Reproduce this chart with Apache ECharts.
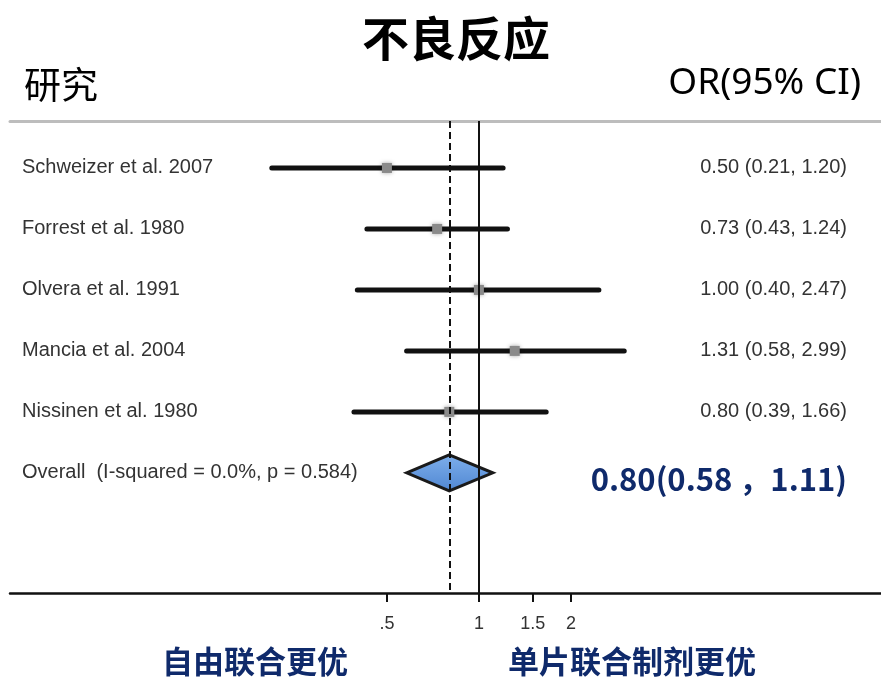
<!DOCTYPE html>
<html>
<head>
<meta charset="utf-8">
<script src="https://cdn.jsdelivr.net/npm/echarts@6/dist/echarts.min.js"></script>
<style>
  html, body { margin: 0; padding: 0; background: #fff; }
  #main { width: 881px; height: 678px; }
</style>
</head>
<body>
<div id="main"></div>
<script>
// forest plot data
const studies = ['Schweizer et al. 2007', 'Forrest et al. 1980', 'Olvera et al. 1991', 'Mancia et al. 2004', 'Nissinen et al. 1980']
const orEst = [0.50, 0.73, 1.00, 1.31, 0.80]
const ciLow = [0.21, 0.43, 0.40, 0.58, 0.39]
const ciHigh = [1.20, 1.24, 2.47, 2.99, 1.66]
const overallLabel = 'Overall  (I-squared = 0.0%, p = 0.584)'
const overallEst = [0.80, 0.58, 1.11]
const xTicks = [0.5, 1, 1.5, 2]
const rows = [0, 1, 2, 3, 4, 5]

const fmt = v => v.toFixed(2)
const leftLabels = studies.concat([overallLabel])
const rightLabels = studies.map((s, i) => fmt(orEst[i]) + ' (' + fmt(ciLow[i]) + ', ' + fmt(ciHigh[i]) + ')')
rightLabels.push(fmt(overallEst[0]) + '(' + fmt(overallEst[1]) + ' ，' + fmt(overallEst[2]) + ')')

const studyData = studies.map((s, i) => [orEst[i], ciLow[i], ciHigh[i], i])
const overallData = [[overallEst[0], overallEst[1], overallEst[2], 5]]

const chart = echarts.init(document.getElementById('main'))

chart.setOption({
  animation: false,
  grid: { left: 10, right: 0, top: 121, bottom: 85 },
  graphic: [
    { type: 'text', x: 456, y: 38, style: { text: '不良反应', font: 'bold 47px "Noto Sans CJK SC"', fill: '#000', textAlign: 'center', textVerticalAlign: 'middle' } },
    { type: 'text', x: 24, y: 85, style: { text: '研究', font: '37px "Noto Sans CJK SC"', fill: '#000', textVerticalAlign: 'middle' } },
    { type: 'text', x: 861, y: 83, style: { text: 'OR(95% CI)', font: '37px "Noto Sans"', fill: '#000', textAlign: 'right', textVerticalAlign: 'middle' } },
    { type: 'text', x: 255, y: 661, style: { text: '自由联合更优', font: 'bold 31px "Noto Sans CJK SC"', fill: '#0f2a6b', textAlign: 'center', textVerticalAlign: 'middle' } },
    { type: 'text', x: 632, y: 661, style: { text: '单片联合制剂更优', font: 'bold 31px "Noto Sans CJK SC"', fill: '#0f2a6b', textAlign: 'center', textVerticalAlign: 'middle' } }
  ],
  xAxis: [
    {
      type: 'log',
      logBase: 2,
      min: 0.0292,
      max: 20.7,
      position: 'bottom',
      axisLine: { onZero: false, lineStyle: { color: '#111', width: 2.5 } },
      axisTick: { customValues: xTicks, length: 9, lineStyle: { color: '#111', width: 2 } },
      axisLabel: {
        customValues: xTicks,
        margin: 22,
        fontSize: 18,
        fontFamily: 'Liberation Sans',
        color: '#333',
        formatter: v => (v < 1 ? String(v).replace(/^0/, '') : String(v))
      },
      splitLine: { show: false }
    },
    {
      type: 'log',
      logBase: 2,
      min: 0.0292,
      max: 20.7,
      position: 'top',
      axisLine: { onZero: false, lineStyle: { color: '#bdbdbd', width: 3 } },
      axisTick: { show: false },
      axisLabel: { show: false },
      splitLine: { show: false }
    }
  ],
  yAxis: [
    {
      type: 'value',
      inverse: true,
      min: -0.77,
      max: 6.97,
      position: 'left',
      axisLine: { show: false },
      axisTick: { show: false },
      splitLine: { show: false },
      axisLabel: {
        inside: true,
        customValues: rows,
        margin: 12,
        fontSize: 20,
        fontFamily: 'Liberation Sans',
        color: '#333',
        formatter: v => leftLabels[v]
      }
    },
    {
      type: 'value',
      inverse: true,
      min: -0.77,
      max: 6.97,
      position: 'right',
      axisLine: { show: false },
      axisTick: { show: false },
      splitLine: { show: false },
      axisLabel: {
        inside: true,
        customValues: rows,
        margin: 34,
        formatter: v => (v === 5 ? '{ov|' + rightLabels[v] + '}' : '{st|' + rightLabels[v] + '}'),
        rich: {
          st: { fontSize: 20, fontFamily: 'Liberation Sans', color: '#333' },
          ov: { fontSize: 31, fontWeight: 'bold', fontFamily: 'Noto Sans CJK SC', color: '#0f2a6b', padding: [12, 0, 0, 0] }
        }
      }
    }
  ],
  series: [
    {
      type: 'custom',
      name: 'studies',
      xAxisIndex: 0,
      yAxisIndex: 0,
      data: studyData,
      renderItem: function(params, api) {
        const y = api.value(3)
        const pLo = api.coord([api.value(1), y])
        const pHi = api.coord([api.value(2), y])
        const pEst = api.coord([api.value(0), y])
        return {
          type: 'group',
          children: [
            { type: 'line', shape: { x1: pLo[0], y1: pLo[1], x2: pHi[0], y2: pHi[1] }, style: { stroke: '#111', lineWidth: 5, lineCap: 'round' } },
            { type: 'rect', shape: { x: pEst[0] - 5, y: pEst[1] - 5, width: 10, height: 10 }, style: { fill: '#8a8a8a', shadowBlur: 4, shadowColor: 'rgba(0,0,0,0.35)' } }
          ]
        }
      },
      markLine: {
        silent: true,
        symbol: 'none',
        label: { show: false },
        data: [
          { xAxis: 0.8, lineStyle: { type: [7, 4], color: '#111', width: 2 } },
          { xAxis: 1, lineStyle: { type: 'solid', color: '#111', width: 2 } }
        ]
      }
    },
    {
      type: 'custom',
      name: 'overall',
      xAxisIndex: 0,
      yAxisIndex: 0,
      data: overallData,
      renderItem: function(params, api) {
        const y = api.value(3)
        const pLo = api.coord([api.value(1), y])
        const pHi = api.coord([api.value(2), y])
        const pEst = api.coord([api.value(0), y])
        const h = 18
        return {
          type: 'polygon',
          shape: { points: [[pLo[0], pLo[1]], [pEst[0], pEst[1] - h], [pHi[0], pHi[1]], [pEst[0], pEst[1] + h]] },
          style: {
            fill: new echarts.graphic.LinearGradient(0, 0, 0, 1, [
              { offset: 0, color: '#7fb0ec' },
              { offset: 1, color: '#4f86d2' }
            ]),
            stroke: '#1a1a1a',
            lineWidth: 3
          }
        }
      }
    }
  ]
})
</script>
</body>
</html>
